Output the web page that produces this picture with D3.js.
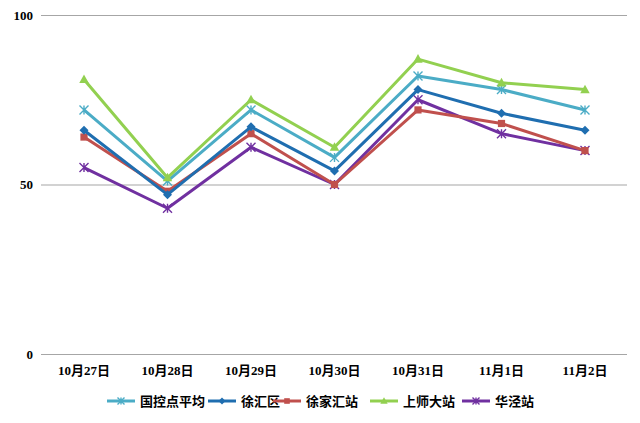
<!DOCTYPE html>
<html><head><meta charset="utf-8">
<script src="https://cdn.jsdelivr.net/npm/d3@7"></script>
<style>
html,body{margin:0;padding:0;background:#fff;}
svg{display:block;}
</style></head>
<body>
<svg id="c" width="640" height="423"></svg>
<script>
const categories = ["10月27日","10月28日","10月29日","10月30日","10月31日","11月1日","11月2日"];
const yTicks = [0, 50, 100];
const seriesNames = ["国控点平均","徐汇区","徐家汇站","上师大站","华泾站"];
const guokong = [72, 51, 72, 58, 82, 78, 72];
const xuhuiqu = [66, 47, 67, 54, 78, 71, 66];
const xujiahui = [64, 48, 65, 50, 72, 68, 60];
const shangshida = [81, 52, 75, 61, 87, 80, 78];
const huajing = [55, 43, 61, 50, 75, 65, 60];

const series = [
  {name: seriesNames[0], values: guokong, color: "#4BACC6", marker: "star"},
  {name: seriesNames[1], values: xuhuiqu, color: "#1F6EB0", marker: "diamond"},
  {name: seriesNames[2], values: xujiahui, color: "#C0504D", marker: "square"},
  {name: seriesNames[3], values: shangshida, color: "#92D050", marker: "triangle"},
  {name: seriesNames[4], values: huajing, color: "#7030A0", marker: "star"}
];
const drawOrder = [4, 2, 1, 0, 3];

const svg = d3.select("#c");
const x = d3.scalePoint().domain(categories).range([84, 585]);
const y = d3.scaleLinear().domain([0, 100]).range([354, 15]);
const left = 41, right = 627;

const labelFont = "'Liberation Serif','Noto Sans CJK SC',serif";

// gridlines
svg.append("g").selectAll("line").data(yTicks).join("line")
  .attr("x1", left).attr("x2", right)
  .attr("y1", d => y(d) + 0.5).attr("y2", d => y(d) + 0.5)
  .attr("stroke", "#a6a6a6").attr("stroke-width", 1.2);

// y labels
svg.append("g").selectAll("text").data(yTicks).join("text")
  .attr("x", 33).attr("y", d => y(d)).attr("dy", "0.35em")
  .attr("text-anchor", "end")
  .attr("font-family", labelFont).attr("font-weight", "bold").attr("font-size", 13)
  .attr("fill", "#000").text(d => d);

// x labels
svg.append("g").selectAll("text").data(categories).join("text")
  .attr("x", d => x(d)).attr("y", 370).attr("dy", "0.35em")
  .attr("text-anchor", "middle")
  .attr("font-family", labelFont).attr("font-weight", "bold").attr("font-size", 13)
  .attr("fill", "#000").text(d => d);

function drawMarker(g, type, cx, cy, color, s) {
  if (type === "diamond") {
    g.append("path").attr("d", `M${cx},${cy-s}L${cx+s},${cy}L${cx},${cy+s}L${cx-s},${cy}Z`).attr("fill", color);
  } else if (type === "square") {
    g.append("rect").attr("x", cx - s*0.8).attr("y", cy - s*0.8).attr("width", s*1.6).attr("height", s*1.6).attr("fill", color);
  } else if (type === "triangle") {
    g.append("path").attr("d", `M${cx},${cy-s*1.1}L${cx+s*1.05},${cy+s*0.8}L${cx-s*1.05},${cy+s*0.8}Z`).attr("fill", color);
  } else if (type === "star") {
    const r = s;
    g.append("path").attr("d", `M${cx-r},${cy-r}L${cx+r},${cy+r}M${cx+r},${cy-r}L${cx-r},${cy+r}M${cx},${cy-r}L${cx},${cy+r}`)
      .attr("stroke", color).attr("stroke-width", 1.4).attr("fill", "none");
  }
}

const line = d3.line().x((d, i) => x(categories[i])).y(d => y(d));
drawOrder.forEach(idx => {
  const s = series[idx];
  const g = svg.append("g");
  g.append("path").attr("d", line(s.values)).attr("fill", "none")
    .attr("stroke", s.color).attr("stroke-width", 3).attr("stroke-linejoin", "round");
  s.values.forEach((v, i) => drawMarker(g, s.marker, x(categories[i]), y(v), s.color, 4.5));
});

// legend
const legendX = [107, 208, 273, 370, 462];
const lg = svg.append("g");
series.forEach((s, i) => {
  const lx = legendX[i], ly = 401;
  lg.append("line").attr("x1", lx).attr("x2", lx + 28).attr("y1", ly).attr("y2", ly)
    .attr("stroke", s.color).attr("stroke-width", 3);
  drawMarker(lg, s.marker, lx + 14, ly, s.color, 3.5);
  lg.append("text").attr("x", lx + 33).attr("y", ly).attr("dy", "0.36em")
    .attr("font-family", "'Noto Sans CJK SC',sans-serif").attr("font-weight", "bold").attr("font-size", 13)
    .attr("fill", "#000").text(s.name);
});
</script>
</body></html>
